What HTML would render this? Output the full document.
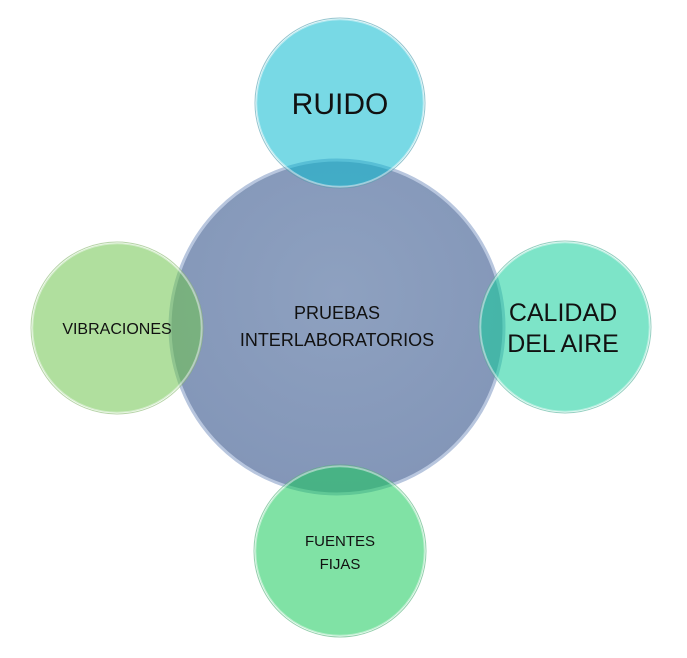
<!DOCTYPE html>
<html><head><meta charset="utf-8"><style>
html,body{margin:0;padding:0;background:#fff;}
svg{display:block;}
text{font-family:"Liberation Sans","DejaVu Sans",sans-serif;fill:#111;text-anchor:middle;}
</style></head><body>
<svg width="687" height="658" viewBox="0 0 687 658">
<defs>
<radialGradient id="gc" cx="50%" cy="40%" r="60%">
<stop offset="0" stop-color="#8ea1c0"/><stop offset="1" stop-color="#8396b8"/>
</radialGradient>
</defs>
<circle cx="337" cy="327" r="167" fill="url(#gc)" stroke="#b8c6de" stroke-width="3"/>
<text x="337" y="319" font-size="18">PRUEBAS</text>
<text x="337" y="346" font-size="18">INTERLABORATORIOS</text>

<g stroke-width="2.5">
<circle cx="340" cy="103" r="84" fill="rgba(10,185,207,0.55)" stroke="rgba(255,255,255,0.45)"/>
<circle cx="565" cy="327" r="85" fill="rgba(18,205,155,0.55)" stroke="rgba(255,255,255,0.45)"/>
<circle cx="117" cy="328" r="85" fill="rgba(112,196,78,0.55)" stroke="rgba(255,255,255,0.45)"/>
<circle cx="340" cy="551" r="85" fill="rgba(24,202,91,0.55)" stroke="rgba(255,255,255,0.45)"/>
</g>
<g fill="none" stroke-width="1">
<circle cx="340" cy="103" r="85" stroke="rgba(40,140,160,0.5)"/>
<circle cx="565" cy="327" r="86" stroke="rgba(40,160,130,0.5)"/>
<circle cx="117" cy="328" r="86" stroke="rgba(110,170,80,0.5)"/>
<circle cx="340" cy="551" r="86" stroke="rgba(40,160,90,0.5)"/>
</g>
<text x="340" y="114" font-size="30">RUIDO</text>
<text x="563" y="321" font-size="25">CALIDAD</text>
<text x="563" y="352" font-size="25">DEL AIRE</text>
<text x="117" y="334" font-size="16">VIBRACIONES</text>
<text x="340" y="546" font-size="15">FUENTES</text>
<text x="340" y="569" font-size="15">FIJAS</text>
</svg>
</body></html>
